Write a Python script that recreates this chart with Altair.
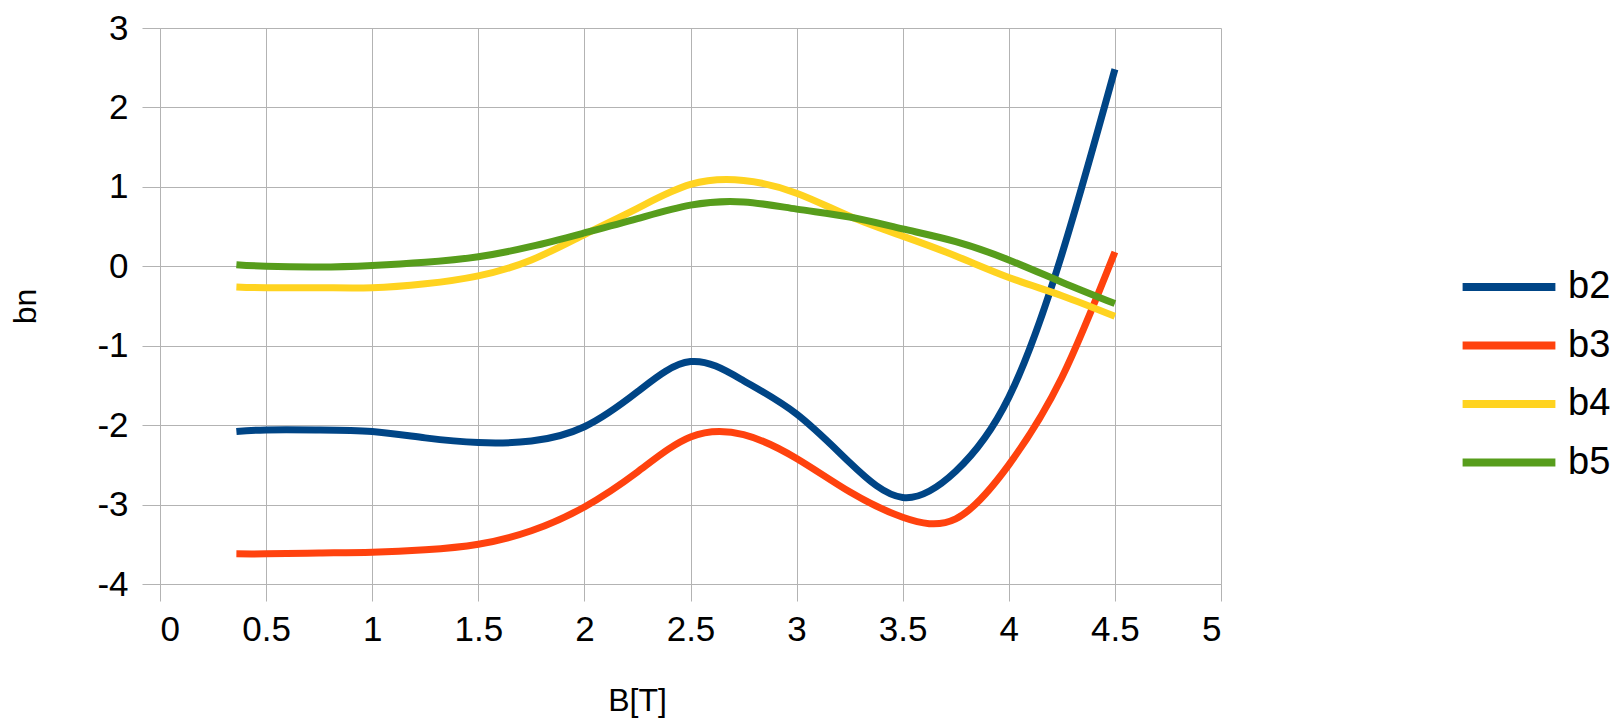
import altair as alt
import pandas as pd

B = [0.36, 0.5, 0.75, 1.0, 1.25, 1.5, 1.75, 2.0, 2.25, 2.5, 2.75, 3.0, 3.25, 3.5, 3.75, 4.0, 4.25, 4.5]
b2 = [-2.08, -2.06, -2.06, -2.08, -2.16, -2.22, -2.20, -2.02, -1.58, -1.20, -1.44, -1.86, -2.47, -2.91, -2.58, -1.65, 0.15, 2.48]
b3 = [-3.62, -3.62, -3.61, -3.60, -3.57, -3.50, -3.33, -3.03, -2.59, -2.15, -2.12, -2.42, -2.84, -3.16, -3.18, -2.50, -1.40, 0.18]
b4 = [-0.26, -0.27, -0.27, -0.27, -0.22, -0.12, 0.08, 0.40, 0.73, 1.03, 1.08, 0.92, 0.63, 0.38, 0.13, -0.14, -0.37, -0.63]
b5 = [0.02, 0.00, -0.01, 0.01, 0.05, 0.12, 0.25, 0.42, 0.60, 0.77, 0.81, 0.72, 0.62, 0.47, 0.31, 0.08, -0.20, -0.47]

series = ["b2", "b3", "b4", "b5"]
colors = ["#004586", "#ff420e", "#ffd320", "#579d1c"]
x_ticks = [0, 0.5, 1, 1.5, 2, 2.5, 3, 3.5, 4, 4.5, 5]
y_ticks = [-4, -3, -2, -1, 0, 1, 2, 3]

rows = []
for name, vals in zip(series, [b2, b3, b4, b5]):
    for xv, yv in zip(B, vals):
        rows.append({"B": xv, "bn": yv, "series": name})
df = pd.DataFrame(rows)

FONT = "Liberation Sans"
GRID = "#b3b3b3"

chart = alt.Chart(df).mark_line(strokeWidth=7, interpolate="natural").encode(
    x=alt.X("B:Q",
            scale=alt.Scale(domain=[0, 5], nice=False, zero=False),
            axis=alt.Axis(values=x_ticks, title="B[T]", labelExpr="'' + datum.value",
                          labelFontSize=35, labelFont=FONT, labelColor="#000000",
                          labelPadding=11, tickSize=17, tickColor=GRID, domainColor=GRID,
                          gridColor=GRID, labelBaseline="top",
                          titleFontSize=32, titleFont=FONT, titleFontWeight="normal",
                          titleColor="#000000", titleX=477, titleY=116,
                          titleBaseline="middle", titleAlign="center")),
    y=alt.Y("bn:Q",
            scale=alt.Scale(domain=[-4, 3], nice=False, zero=False),
            axis=alt.Axis(values=y_ticks, title="bn", labelExpr="'' + datum.value",
                          labelFontSize=35, labelFont=FONT, labelColor="#000000",
                          labelPadding=14, tickSize=18, tickColor=GRID, domainColor=GRID,
                          gridColor=GRID,
                          titleFontSize=32, titleFont=FONT, titleFontWeight="normal",
                          titleColor="#000000", titleX=-135, titleY=278,
                          titleBaseline="middle", titleAlign="center", titleAngle=-90)),
    color=alt.Color("series:N",
                    scale=alt.Scale(domain=series, range=colors),
                    legend=alt.Legend(title=None, orient="none", legendX=1316, legendY=226,
                                      symbolType="M-1.6,0H1.6", symbolSize=3364,
                                      symbolStrokeWidth=8, labelFontSize=38, labelFont=FONT,
                                      labelColor="#000000", labelOffset=26, rowPadding=6.5)),
).properties(
    width=1061, height=556,
    padding={"left": 152, "top": 20, "right": 395, "bottom": 136},
    autosize=alt.AutoSizeParams(type="none"),
).configure_view(stroke=None).configure_axis(gridWidth=1, tickWidth=1, domainWidth=1)

chart.save("out.html", embed_options={"renderer": "svg", "actions": False})
